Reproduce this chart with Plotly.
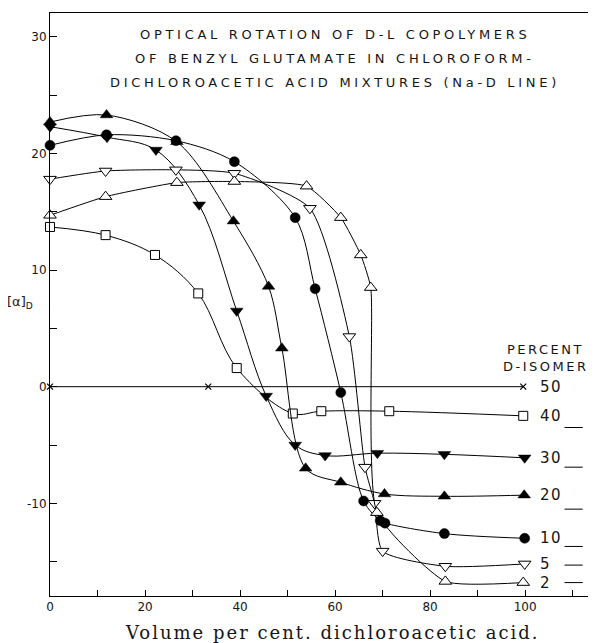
import plotly.graph_objects as go

# ---- data ----
x_50 = [0, 33.3, 99.6]
y_50 = [0, 0, 0]

x_40 = [0, 11.7, 22.1, 31.2, 39.3, 51.1, 57.1, 71.4, 99.6]
y_40 = [13.7, 13.0, 11.3, 8.0, 1.6, -2.3, -2.1, -2.1, -2.5]

x_30 = [0, 12.0, 22.3, 31.4, 39.3, 45.5, 51.6, 57.9, 68.9, 83.0, 99.9]
y_30 = [22.3, 21.4, 20.3, 15.6, 6.5, -0.8, -5.0, -5.9, -5.7, -5.8, -6.1]

x_20 = [0, 11.9, 26.7, 38.6, 46.0, 48.8, 53.8, 61.2, 70.4, 83.0, 99.8]
y_20 = [22.7, 23.3, 21.0, 14.2, 8.6, 3.3, -7.0, -8.2, -9.2, -9.4, -9.3]

x_10 = [0, 11.9, 26.5, 38.8, 51.6, 55.8, 61.2, 66.0, 69.5, 70.5, 83.0, 99.9]
y_10 = [20.7, 21.6, 21.1, 19.3, 14.5, 8.4, -0.5, -9.8, -11.5, -11.7, -12.6, -13.0]

x_5 = [0, 11.7, 26.5, 38.8, 54.7, 63.0, 66.3, 68.3, 70.0, 83.2, 99.9]
y_5 = [17.8, 18.5, 18.6, 18.3, 15.3, 4.3, -6.9, -10.0, -14.1, -15.4, -15.2]

x_2 = [0, 11.7, 26.7, 38.8, 54.0, 61.2, 65.4, 67.5, 68.8, 83.2, 99.6]
y_2 = [14.7, 16.3, 17.5, 17.6, 17.2, 14.5, 11.3, 8.5, -10.8, -16.7, -16.8]

series_names = ["50", "40", "30", "20", "10", "5", "2"]

x_tickvals = [0, 20, 40, 60, 80, 100]
x_ticktext = ["0", "20", "40", "60", "80", "100"]
y_tickvals = [-10, 0, 10, 20, 30]
y_ticktext = ["-10", "0", "10", "20", "30"]

right_dash_y = [-3.5, -6.9, -10.5, -13.7, -15.3, -16.8]

title_lines = [
    "OPTICAL ROTATION OF D-L COPOLYMERS",
    "OF BENZYL GLUTAMATE IN CHLOROFORM-",
    "DICHLOROACETIC ACID MIXTURES (Na-D LINE)",
]
legend_title = ["PERCENT", "D-ISOMER"]
x_title = "Volume per cent. dichloroacetic acid."

# ---- styles ----
FONT = "DejaVu Sans"
INK = "#151515"


def spaced(t, px):
    return f'<span style="letter-spacing:{px}px">{t}</span>'


styles = {
    "50": dict(symbol="x-thin", size=6, color="black", line=dict(color="black", width=1.2)),
    "40": dict(symbol="square", size=9, color="white", line=dict(color="black", width=1)),
    "30": dict(symbol="triangle-down", size=11, color="black", line=dict(color="black", width=0.5)),
    "20": dict(symbol="triangle-up", size=11, color="black", line=dict(color="black", width=0.5)),
    "10": dict(symbol="circle", size=10, color="black", line=dict(color="black", width=0.5)),
    "5": dict(symbol="triangle-down", size=11, color="white", line=dict(color="black", width=1)),
    "2": dict(symbol="triangle-up", size=11, color="white", line=dict(color="black", width=1)),
}
smooth = {"50": 0, "40": 1.0, "30": 1.0, "20": 0.9, "10": 0.9, "5": 0.6, "2": 0.5}
data = {
    "50": (x_50, y_50), "40": (x_40, y_40), "30": (x_30, y_30), "20": (x_20, y_20),
    "10": (x_10, y_10), "5": (x_5, y_5), "2": (x_2, y_2),
}

fig = go.Figure()
for name in series_names:
    xs, ys = data[name]
    shape = "linear" if name == "50" else "spline"
    fig.add_trace(go.Scatter(
        x=xs, y=ys, mode="lines+markers", name=name,
        line=dict(color="black", width=1, shape=shape, smoothing=smooth[name]),
        marker=styles[name], showlegend=False, cliponaxis=False,
    ))
    fig.add_annotation(x=102.6, y=ys[-1], text=spaced(name, 1.5), showarrow=False,
                       xanchor="left", yanchor="middle",
                       font=dict(family=FONT, size=15, color=INK))

fig.add_trace(go.Scatter(
    x=[110.2] * len(right_dash_y), y=right_dash_y, mode="markers",
    marker=dict(symbol="line-ew", size=13, line=dict(color="black", width=1)),
    showlegend=False, hoverinfo="skip",
))

for i, t in enumerate(title_lines):
    fig.add_annotation(x=60, y=30.2 - i * 2.07, text=spaced(t, 3.7),
                       showarrow=False, xanchor="center", yanchor="middle",
                       font=dict(family=FONT, size=13, color=INK))

for i, t in enumerate(legend_title):
    fig.add_annotation(x=104.2, y=3.2 - i * 1.5, text=spaced(t, 2.5), showarrow=False,
                       xanchor="center", yanchor="middle",
                       font=dict(family=FONT, size=13, color=INK))

fig.add_annotation(x=-0.055, y=7.2, xref="paper", yref="y", text="[α]<sub>D</sub>",
                   showarrow=False, xanchor="center", yanchor="middle",
                   font=dict(family=FONT, size=13, color=INK))

fig.add_annotation(x=59.5, y=-0.063, xref="x", yref="paper", text=spaced(x_title, 2),
                   showarrow=False, xanchor="center", yanchor="middle",
                   font=dict(family="DejaVu Serif", size=18, color=INK))

fig.update_xaxes(range=[0, 114.7], tickmode="array", tickvals=x_tickvals, ticktext=x_ticktext,
                 ticks="inside", ticklen=6, tickcolor="black",
                 minor=dict(tickmode="linear", tick0=0, dtick=10, ticks="inside",
                            ticklen=6, tickcolor="black", showgrid=False),
                 showline=True, linecolor="black", linewidth=1, mirror=True,
                 showgrid=False, zeroline=False, automargin=False,
                 tickfont=dict(family=FONT, size=12, color=INK))
fig.update_yaxes(range=[-17.95, 32.05], tickmode="array", tickvals=y_tickvals, ticktext=y_ticktext,
                 ticks="inside", ticklen=7, tickcolor="black",
                 minor=dict(tickmode="linear", tick0=0, dtick=5, ticks="inside",
                            ticklen=7, tickcolor="black", showgrid=False),
                 showline=True, linecolor="black", linewidth=1, mirror=True,
                 showgrid=False, zeroline=False, automargin=False,
                 tickfont=dict(family=FONT, size=12, color=INK))

# the page body adds an 8px margin, so the figure is sized to fit inside the window
fig.update_layout(width=588, height=635, margin=dict(l=42, r=1, t=5, b=47),
                  paper_bgcolor="white", plot_bgcolor="white")

fig.write_html("out.html")
